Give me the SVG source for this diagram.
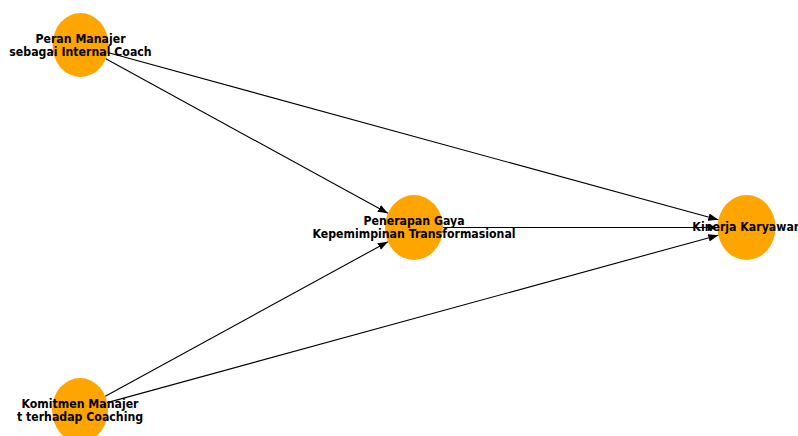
<svg xmlns="http://www.w3.org/2000/svg" width="798" height="436" viewBox="0 0 798 436">
<style>
.node{fill:#FFA500}
.edge{stroke:#000;stroke-width:1.1;fill:none;marker-end:url(#arr)}
.lbl{font-family:"DejaVu Sans",sans-serif;font-weight:bold;font-size:11px;fill:#000;text-anchor:middle}
</style>
<defs>
<marker id="arr" markerUnits="userSpaceOnUse" markerWidth="11" markerHeight="8" refX="10" refY="3.75" orient="auto">
<path d="M0,0 L10,3.75 L0,7.5 z" fill="#000"/>
</marker>
</defs>
<rect width="798" height="436" fill="#fff"/>
<g id="n1"><ellipse class="node" cx="80.5" cy="45" rx="28" ry="32"/></g>
<g id="n2"><ellipse class="node" cx="414" cy="227.5" rx="29" ry="32.5"/></g>
<g id="n3"><ellipse class="node" cx="746.5" cy="227.5" rx="29" ry="32.5"/></g>
<g id="n4"><ellipse class="node" cx="80" cy="410" rx="28" ry="32"/></g>
<g id="edges">
<line class="edge" x1="105.8" y1="58.8" x2="387.9" y2="213.2"/>
<line class="edge" x1="107.7" y1="52.5" x2="718.3" y2="219.8"/>
<line class="edge" x1="443" y1="227.5" x2="717.5" y2="227.5"/>
<line class="edge" x1="105.3" y1="396.2" x2="387.9" y2="241.7"/>
<line class="edge" x1="107.2" y1="402.6" x2="718.3" y2="235.2"/>
</g>
<g id="labels">
<text class="lbl" transform="translate(80.5,42.5) scale(1,1.1)"><tspan x="0" y="0">Peran Manajer</tspan><tspan x="0" y="12">sebagai Internal Coach</tspan></text>
<text class="lbl" transform="translate(414,225) scale(1,1.1)"><tspan x="0" y="0">Penerapan Gaya</tspan><tspan x="0" y="12">Kepemimpinan Transformasional</tspan></text>
<text class="lbl" transform="translate(747,231) scale(1,1.1)">Kinerja Karyawan</text>
<text class="lbl" transform="translate(80,407.5) scale(1,1.1)"><tspan x="0" y="0">Komitmen Manajer</tspan><tspan x="0" y="12">t terhadap Coaching</tspan></text>
</g>
</svg>
